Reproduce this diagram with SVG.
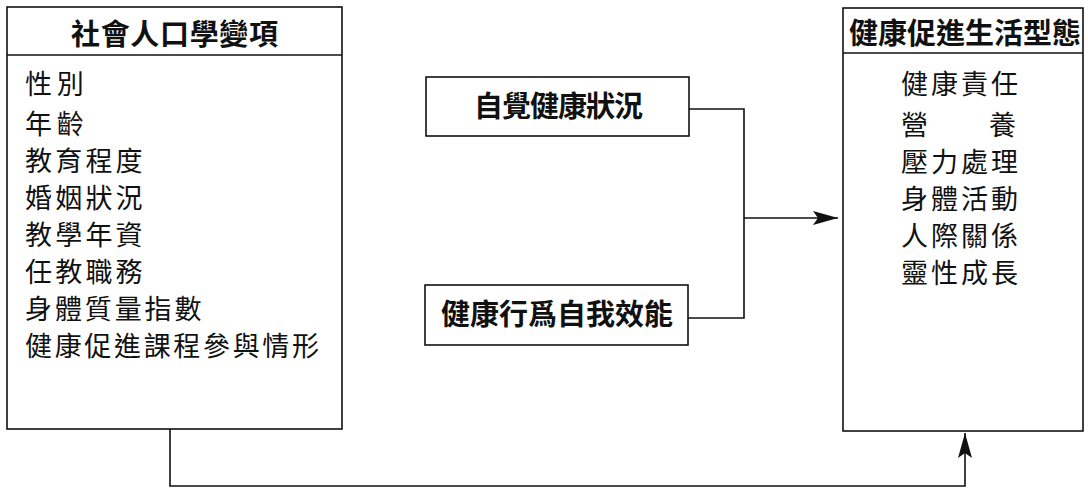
<svg xmlns="http://www.w3.org/2000/svg" width="1088" height="489" viewBox="0 0 1088 489">
<style>
.box{fill:#fff;stroke:#111;stroke-width:1.6}
.div{stroke:#111;stroke-width:1.6}
.hd{font-family:"Noto Sans CJK TC","Noto Sans CJK SC",sans-serif;font-size:29px;font-weight:bold;fill:#111}
.it{font-family:"Noto Sans CJK TC","Noto Sans CJK SC",sans-serif;font-size:27px;font-weight:normal;fill:#111}
.con{fill:none;stroke:#111;stroke-width:1.6}
</style>
<defs>
<marker id="ah" markerUnits="userSpaceOnUse" markerWidth="28" markerHeight="16" refX="25" refY="7" orient="auto">
<path d="M0,0 L25,7 L0,14 L5,7 z" fill="#111"/>
</marker>
</defs>
<rect width="1088" height="489" fill="#fff"/>
<g id="demographics">
<rect class="box" x="7" y="7" width="335" height="422"/>
<line class="div" x1="7" y1="55" x2="342" y2="55"/>
<text class="hd" x="71" y="45" textLength="207" lengthAdjust="spacing">社會人口學變項</text>
<text class="it" x="25" y="94" textLength="58.8" lengthAdjust="spacing">性別</text>
<text class="it" x="25" y="134" textLength="58.8" lengthAdjust="spacing">年齡</text>
<text class="it" x="25" y="171" textLength="117.6" lengthAdjust="spacing">教育程度</text>
<text class="it" x="25" y="208" textLength="117.6" lengthAdjust="spacing">婚姻狀況</text>
<text class="it" x="25" y="245" textLength="117.6" lengthAdjust="spacing">教學年資</text>
<text class="it" x="25" y="282" textLength="117.6" lengthAdjust="spacing">任教職務</text>
<text class="it" x="25" y="319" textLength="176.4" lengthAdjust="spacing">身體質量指數</text>
<text class="it" x="25" y="356" textLength="294" lengthAdjust="spacing">健康促進課程參與情形</text>
</g>
<g id="perceived-health">
<rect class="box" x="426" y="77" width="263" height="59"/>
<text class="hd" x="474" y="117" textLength="169" lengthAdjust="spacing">自覺健康狀況</text>
</g>
<g id="self-efficacy">
<rect class="box" x="425" y="285" width="263" height="60"/>
<text class="hd" x="441" y="325" textLength="232" lengthAdjust="spacing">健康行爲自我效能</text>
</g>
<g id="lifestyle">
<rect class="box" x="843" y="8" width="240" height="423"/>
<line class="div" x1="843" y1="53" x2="1083" y2="53"/>
<text class="hd" x="849" y="44" textLength="232" lengthAdjust="spacing">健康促進生活型態</text>
<text class="it" x="901" y="94" textLength="117" lengthAdjust="spacing">健康責任</text>
<text class="it" x="901 989" y="135">營養</text>
<text class="it" x="901" y="172" textLength="117" lengthAdjust="spacing">壓力處理</text>
<text class="it" x="901" y="209" textLength="117" lengthAdjust="spacing">身體活動</text>
<text class="it" x="901" y="246" textLength="117" lengthAdjust="spacing">人際關係</text>
<text class="it" x="901" y="283" textLength="117" lengthAdjust="spacing">靈性成長</text>
</g>
<g id="connectors">
<polyline class="con" points="689,109 744,109 744,318 688,318"/>
<line class="con" x1="744" y1="218" x2="838" y2="218" marker-end="url(#ah)"/>
<polyline class="con" points="170,429 170,486 965,486 965,433" marker-end="url(#ah)"/>
</g>
</svg>
